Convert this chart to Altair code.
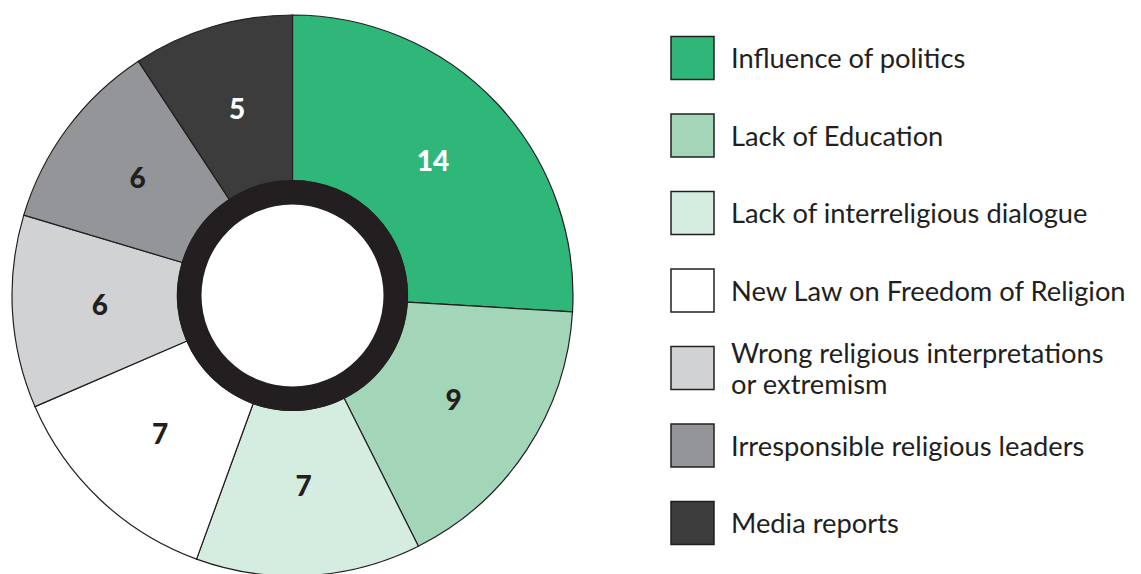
import altair as alt
import pandas as pd

categories = [
    "Influence of politics",
    "Lack of Education",
    "Lack of interreligious dialogue",
    "New Law on Freedom of Religion",
    "Wrong religious interpretations\nor extremism",
    "Irresponsible religious leaders",
    "Media reports",
]
values = [14, 9, 7, 7, 6, 6, 5]
colors = ["#2eb778", "#a3d6b8", "#d5ece0", "#ffffff", "#d1d2d4", "#939598", "#3c3c3d"]

df = pd.DataFrame({"cat": categories, "value": values, "order": list(range(len(categories)))})

CX, CY = 284.5, 287.5
INK = "#231f20"
FONT = "Lato"
LEG_FS = 27.3

color = alt.Color("cat:N", scale=alt.Scale(domain=categories, range=colors), legend=None)
theta = alt.Theta("value:Q", stack=True)
order = alt.Order("order:Q")

base = alt.Chart(df)

slices = base.mark_arc(innerRadius=115, outerRadius=280.5, stroke=INK, strokeWidth=1.2).encode(
    theta=theta, order=order, color=color, x=alt.value(CX), y=alt.value(CY)
)

ring = base.transform_filter("datum.order == 0").mark_arc(
    innerRadius=91, outerRadius=115.5, theta=0, theta2=6.2832, color=INK
).encode(x=alt.value(CX), y=alt.value(CY))

labels = base.mark_text(radius=193, font=FONT, fontSize=28, fontWeight=900).encode(
    theta=theta,
    order=order,
    text="value:Q",
    x=alt.value(CX),
    y=alt.value(CY),
    color=alt.condition(
        "datum.order == 0 || datum.order == 6", alt.value("#ffffff"), alt.value(INK)
    ),
)

ypos = alt.Y("cat:N", sort=categories, scale=alt.Scale(type="point", range=[50, 515], padding=0), axis=None)

squares = base.mark_square(size=1849, stroke=INK, strokeWidth=1.5, opacity=1).encode(
    x=alt.value(684.5), y=ypos, color=color
)

legend_single = base.transform_filter("indexof(datum.cat, '\\n') < 0").mark_text(
    align="left", baseline="middle", fontSize=LEG_FS, font=FONT, color=INK, dy=2
).encode(x=alt.value(723), y=ypos, text="cat:N")

legend_wrapped = base.transform_filter("indexof(datum.cat, '\\n') >= 0").mark_text(
    align="left", baseline="middle", lineBreak="\n", lineHeight=31,
    fontSize=LEG_FS, font=FONT, color=INK, dy=-13
).encode(x=alt.value(723), y=ypos, text="cat:N")

chart = alt.layer(slices, ring, labels, squares, legend_single, legend_wrapped).properties(
    width=1125, height=566, padding=0,
    autosize=alt.AutoSizeParams(type="none"),
).configure_view(stroke=None)

chart.save("out.html", embed_options={"renderer": "svg", "actions": False})
